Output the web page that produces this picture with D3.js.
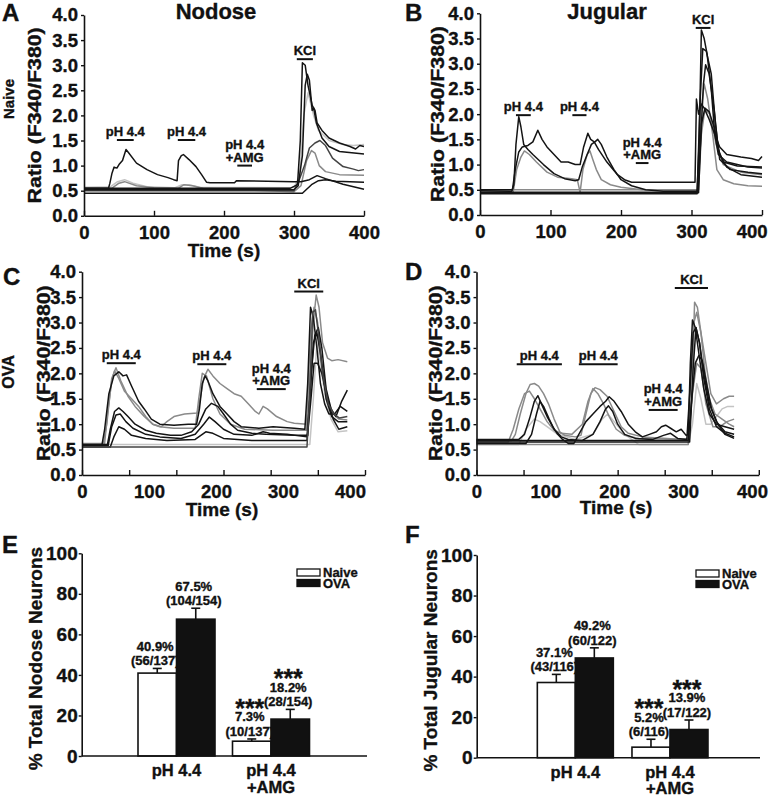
<!DOCTYPE html>
<html><head><meta charset="utf-8">
<script src="https://cdn.jsdelivr.net/npm/d3@7"></script>
<style>
body{margin:0;background:#fff}
text{font-family:"Liberation Sans",Arial,Helvetica,sans-serif;font-weight:bold;fill:#111;stroke:#111;stroke-width:0.35px}
</style>
</head><body>
<svg id="chart" width="769" height="797"></svg>
<script>
// ---------------- DATA ----------------
const timeTicks = [0, 100, 200, 300, 400];
const timeMinorCD = [0, 400/6, 800/6, 200, 1600/6, 2000/6, 400];
const ratioTicks = [0, 0.5, 1, 1.5, 2, 2.5, 3, 3.5, 4];
const pctTicks = [0, 20, 40, 60, 80, 100];

// Panel A: Nodose, naive
const tracesA = [
  [[0,0.57],[38,0.58],[48,0.68],[58,0.72],[70,0.65],[90,0.58],[130,0.56],[140,0.62],[150,0.62],[165,0.57],[300,0.56],[308,0.8],[314,2.0],[320,2.45],[328,2.0],[335,1.7],[350,1.5],[370,1.42],[385,1.4],[400,1.42]],
  [[0,0.55],[40,0.55],[50,0.65],[58,0.68],[75,0.6],[100,0.56],[135,0.55],[143,0.62],[155,0.6],[170,0.55],[300,0.48],[310,0.6],[318,1.1],[325,1.3],[330,1.25],[336,1.0],[345,0.88],[365,0.82],[400,0.81]],
  [[0,0.5],[300,0.5],[307,0.7],[315,1.0],[322,1.35],[330,1.45],[337,1.5],[345,1.4],[355,1.15],[370,0.98],[385,0.93],[392,0.9],[400,0.92]],
  [[0,0.55],[295,0.55],[305,0.62],[309,1.5],[312,3.05],[316,3.0],[320,2.6],[326,2.2],[330,2.1],[333,1.85],[340,1.7],[350,1.55],[365,1.45],[380,1.38],[388,1.33],[394,1.4],[400,1.38]],
  [[0,0.52],[300,0.52],[306,0.6],[312,1.2],[316,2.6],[319,2.82],[322,2.7],[326,2.1],[328,2.15],[332,1.85],[340,1.55],[350,1.38],[365,1.28],[400,1.23]],
  [[0,0.45],[312,0.45],[325,0.62],[335,0.7],[345,0.72],[360,0.69],[400,0.67]],
  [[0,0.55],[35,0.55],[37,0.65],[40,0.85],[43,0.97],[47,0.95],[50,1.02],[55,1.1],[60,1.32],[64,1.25],[75,1.05],[90,0.92],[105,0.82],[120,0.76],[128,0.72],[133,0.7],[135,1.1],[139,1.2],[142,1.22],[150,1.12],[160,0.98],[168,0.82],[175,0.67],[180,0.66],[215,0.66],[218,0.7],[300,0.68],[310,0.68],[322,0.72],[333,0.8],[345,0.74],[370,0.63],[400,0.53]]
];
const shadesA = ["light","mid","dark","black","black","black","black"];
const stimA = [
  {lines:["pH 4.4"], t0:47, t1:71, v:1.51},
  {lines:["pH 4.4"], t0:134, t1:159, v:1.51},
  {lines:["pH 4.4","+AMG"], t0:219, t1:240, v:1.0},
  {lines:["KCl"], t0:304, t1:327, v:3.12}
];

// Panel B: Jugular, naive
const tracesB = [
  [[0,0.45],[47,0.45],[52,0.9],[58,1.15],[63,1.27],[70,1.2],[80,1.05],[95,0.85],[110,0.75],[130,0.72],[138,0.7],[142,0.45],[146,0.9],[152,1.2],[156,1.27],[160,1.1],[165,0.9],[172,0.7],[185,0.6],[200,0.55],[230,0.5],[309,0.48],[313,2.0],[318,2.6],[323,2.3],[330,1.6],[336,0.9],[345,0.7],[360,0.62],[380,0.58],[400,0.57]],
  [[0,0.5],[310,0.5],[314,1.6],[319,2.1],[326,2.0],[335,1.4],[345,1.0],[370,0.85],[400,0.8]],
  [[0,0.48],[45,0.47],[48,0.6],[51,1.4],[55,1.95],[58,1.75],[62,1.4],[68,1.3],[75,1.2],[90,1.0],[105,0.82],[120,0.72],[135,0.68],[140,0.7],[145,0.95],[152,1.2],[158,1.4],[163,1.45],[167,1.5],[172,1.4],[180,1.15],[190,0.9],[200,0.7],[215,0.58],[235,0.5],[260,0.47],[308,0.47],[311,1.5],[314,3.67],[318,3.5],[322,3.2],[328,2.5],[333,1.6],[338,1.2],[350,1.05],[365,1.0],[380,0.95],[400,0.93]],
  [[0,0.5],[46,0.5],[50,0.9],[55,1.25],[60,1.35],[68,1.38],[75,1.45],[82,1.68],[88,1.5],[95,1.35],[105,1.2],[115,1.05],[125,1.05],[135,1.0],[142,1.0],[147,1.35],[153,1.62],[157,1.5],[162,1.45],[168,1.3],[180,1.05],[195,0.8],[205,0.7],[215,0.65],[305,0.65],[307,2.3],[310,2.0],[314,2.2],[318,2.12],[325,1.9],[333,1.6],[340,1.35],[350,1.2],[370,1.15],[385,1.12],[395,1.08],[400,1.16]],
  [[0,0.45],[309,0.45],[313,1.5],[317,2.6],[320,2.98],[325,2.8],[332,2.1],[338,1.3],[345,1.05],[365,0.97],[400,0.95]],
  [[0,0.42],[308,0.42],[312,2.2],[316,3.3],[321,3.25],[328,2.8],[334,1.8],[340,1.1],[355,0.9],[380,0.85],[400,0.82]],
  [[0,0.44],[310,0.44],[314,1.8],[319,2.12],[325,2.05],[333,1.7],[340,1.2],[350,0.95],[370,0.8],[400,0.75]]
];
const shadesB = ["mid","mid","black","black","black","black","black"];
const stimB = [
  {lines:["pH 4.4"], t0:51, t1:72, v:1.98},
  {lines:["pH 4.4"], t0:131, t1:151, v:1.98},
  {lines:["pH 4.4","+AMG"], t0:221, t1:239, v:1.03},
  {lines:["KCl"], t0:306, t1:327, v:3.71}
];

// Panel C: Nodose, OVA
const tracesC = [
  [[0,0.6],[322,0.6],[327,1.5],[332,2.6],[337,2.2],[343,1.6],[352,1.1],[362,0.85],[375,0.87]],
  [[0,0.6],[30,0.6],[35,1.0],[42,1.9],[48,2.11],[55,1.85],[65,1.55],[75,1.35],[88,1.15],[100,1.0],[112,0.95],[120,1.05],[130,1.15],[145,1.2],[163,1.22],[167,1.5],[172,1.9],[178,2.08],[185,1.95],[195,1.8],[205,1.7],[215,1.6],[225,1.55],[235,1.4],[245,1.25],[250,1.2],[256,1.35],[262,1.3],[275,1.15],[290,1.05],[300,1.02],[318,1.0],[322,2.0],[327,3.0],[331,3.54],[335,3.3],[340,2.6],[347,2.3],[353,2.25],[362,2.27],[375,2.23]],
  [[0,0.62],[32,0.62],[36,1.2],[42,1.85],[46,2.05],[52,1.9],[60,1.65],[70,1.5],[80,1.35],[90,1.15],[100,1.0],[110,0.95],[130,0.92],[160,0.92],[165,1.5],[170,2.0],[176,1.95],[185,1.5],[195,1.2],[210,1.0],[230,0.9],[270,0.88],[317,0.88],[323,2.8],[328,3.3],[333,3.0],[339,2.2],[347,1.5],[355,1.2],[363,1.1],[375,1.08]],
  [[0,0.58],[28,0.58],[32,0.9],[38,1.6],[45,1.95],[52,2.03],[58,1.95],[63,1.97],[70,1.75],[80,1.45],[88,1.3],[98,1.1],[110,1.0],[130,0.98],[150,1.0],[162,1.0],[166,1.3],[170,1.8],[174,1.95],[178,1.85],[185,1.6],[195,1.35],[205,1.2],[215,1.05],[225,0.95],[250,0.92],[270,0.95],[300,0.92],[315,0.9],[319,1.8],[323,3.3],[327,3.1],[332,2.5],[337,1.8],[343,1.4],[349,1.2],[357,1.2],[365,1.35],[375,1.25]],
  [[0,0.6],[36,0.6],[40,0.9],[46,1.25],[52,1.32],[58,1.25],[65,1.15],[75,1.0],[90,0.88],[105,0.82],[125,0.78],[140,0.78],[155,0.85],[165,1.0],[175,1.3],[183,1.41],[192,1.35],[200,1.2],[210,1.0],[220,0.88],[240,0.82],[260,0.8],[300,0.78],[319,0.78],[324,2.0],[329,2.75],[334,2.9],[339,2.5],[345,1.7],[352,1.3],[359,1.15],[367,1.45],[375,1.67]],
  [[0,0.58],[37,0.58],[42,0.95],[48,1.18],[54,1.2],[62,1.05],[72,0.92],[90,0.8],[110,0.75],[140,0.72],[160,0.8],[172,1.0],[180,1.14],[188,1.05],[200,0.9],[215,0.8],[240,0.78],[256,0.85],[265,0.82],[290,0.8],[318,0.75],[322,1.5],[327,2.6],[332,2.8],[338,2.3],[345,1.5],[353,1.15],[362,1.05],[375,1.05]],
  [[0,0.55],[40,0.55],[45,0.75],[52,0.95],[60,0.9],[70,0.78],[90,0.72],[120,0.68],[160,0.7],[175,0.85],[185,0.82],[200,0.72],[240,0.68],[318,0.68],[323,1.4],[328,2.2],[333,2.2],[339,2.0],[347,1.5],[355,1.1],[363,0.9],[375,0.95]],
  [[0,0.55],[318,0.55],[322,1.6],[326,3.2],[330,3.25],[334,2.8],[340,2.0],[348,1.4],[356,1.2],[364,1.12],[375,1.15]]
];
const shadesC = ["light","mid","mid","black","black","black","black","dark"];
const stimC = [
  {lines:["pH 4.4"], t0:35, t1:76, v:2.2},
  {lines:["pH 4.4"], t0:163, t1:204, v:2.18},
  {lines:["pH 4.4","+AMG"], t0:247, t1:288, v:1.69},
  {lines:["KCl"], t0:300, t1:341, v:3.61}
];

// Panel D: Jugular, OVA
const tracesD = [
  [[0,0.6],[60,0.6],[70,0.9],[82,1.1],[90,1.05],[100,0.95],[115,0.8],[140,0.7],[165,0.8],[178,1.1],[186,1.2],[195,1.05],[210,0.8],[230,0.6],[300,0.6],[306,1.0],[312,1.8],[318,1.5],[325,1.0],[332,1.0],[340,1.15],[348,1.3],[356,1.35],[365,1.35]],
  [[0,0.68],[50,0.68],[55,0.8],[62,1.2],[70,1.6],[76,1.78],[82,1.8],[88,1.75],[95,1.6],[102,1.4],[110,1.1],[118,0.85],[125,0.78],[140,0.75],[148,0.78],[155,1.2],[162,1.6],[168,1.72],[175,1.68],[185,1.55],[195,1.25],[205,0.95],[215,0.82],[235,0.75],[270,0.72],[290,0.7],[300,0.72],[304,2.0],[308,3.0],[312,3.2],[318,2.8],[325,2.2],[332,1.6],[340,1.4],[350,1.5],[358,1.55],[365,1.55]],
  [[0,0.65],[45,0.65],[52,0.9],[60,1.3],[68,1.6],[75,1.65],[82,1.5],[92,1.25],[100,1.05],[110,0.88],[120,0.82],[135,0.8],[150,1.0],[158,1.45],[165,1.7],[172,1.6],[180,1.4],[188,1.15],[198,0.9],[210,0.78],[230,0.72],[300,0.7],[305,1.5],[309,3.4],[313,3.3],[318,2.8],[324,2.0],[330,1.5],[338,1.2],[348,1.1],[358,1.0],[365,0.95]],
  [[0,0.6],[300,0.6],[306,1.6],[312,2.2],[318,2.1],[325,1.4],[335,0.95],[345,0.95],[355,1.05],[365,1.1]],
  [[0,0.7],[60,0.7],[68,0.8],[75,1.1],[82,1.45],[87,1.56],[92,1.4],[100,1.15],[108,0.95],[115,0.8],[122,0.7],[130,0.62],[138,0.62],[145,0.8],[155,1.05],[165,1.2],[175,1.35],[183,1.45],[188,1.54],[195,1.45],[205,1.25],[215,1.0],[225,0.85],[235,0.75],[245,0.8],[255,0.85],[262,0.95],[268,0.98],[275,0.92],[283,0.85],[290,0.9],[297,0.78],[300,0.8],[303,2.2],[306,3.05],[310,2.9],[315,2.4],[322,1.7],[330,1.2],[340,1.0],[352,0.95],[365,0.9]],
  [[0,0.62],[70,0.62],[78,0.8],[85,1.2],[90,1.45],[95,1.35],[103,1.1],[110,0.9],[120,0.75],[130,0.7],[150,0.68],[165,0.8],[175,1.05],[183,1.3],[187,1.36],[193,1.25],[200,1.0],[210,0.8],[225,0.72],[250,0.7],[265,0.78],[275,0.82],[285,0.72],[298,0.7],[303,1.8],[307,2.8],[311,2.9],[316,2.6],[322,2.0],[330,1.4],[340,1.05],[352,0.85],[365,0.8]],
  [[0,0.68],[300,0.68],[305,1.5],[310,2.2],[315,2.35],[320,2.25],[326,1.8],[333,1.3],[342,1.0],[352,0.8],[365,0.72]],
  [[0,0.65],[302,0.65],[307,2.1],[311,2.9],[316,2.6],[322,1.9],[330,1.3],[340,0.95],[352,0.82],[365,0.75]]
];
const shadesD = ["light","mid","mid","mid","black","black","black","black"];
const stimD = [
  {lines:["pH 4.4"], t0:57, t1:121, v:2.18},
  {lines:["pH 4.4"], t0:145, t1:200, v:2.18},
  {lines:["pH 4.4","+AMG"], t0:244, t1:285, v:1.28},
  {lines:["KCl"], t0:281, t1:328, v:3.68}
];

// Bar charts (E: nodose, F: jugular)
const barCategories = [["pH 4.4"], ["pH 4.4", "+AMG"]];
const groups = ["Naive", "OVA"];
const nodoseNaive = [40.9, 7.3];
const nodoseOVA = [67.5, 18.2];
const nodoseNaiveErr = [2.3, 1.1];
const nodoseOVAErr = [5.4, 4.8];
const nodoseNaiveN = ["(56/137)", "(10/137)"];
const nodoseOVAN = ["(104/154)", "(28/154)"];
const jugularNaive = [37.1, 5.2];
const jugularOVA = [49.2, 13.9];
const jugularNaiveErr = [4.0, 3.9];
const jugularOVAErr = [5.0, 4.7];
const jugularNaiveN = ["(43/116)", "(6/116)"];
const jugularOVAN = ["(60/122)", "(17/122)"];
const sigNaive = ["", "***"];
const sigOVA = ["", "***"];

// ---------------- DRAWING ----------------
const svg = d3.select("#chart");
const shadeColor = {black:"#141414", dark:"#444", mid:"#8a8a8a", light:"#c4c4c4"};

function styleAxis(g, fs) {
  g.attr("font-size", fs);
  g.selectAll("path.domain").attr("stroke", "#111").attr("stroke-width", 1.6);
  g.selectAll(".tick line").attr("stroke", "#111").attr("stroke-width", 1.4);
  g.selectAll(".tick text").attr("fill", "#111");
}

function rotText(x, y, txt, fs, len) {
  const t = svg.append("text").attr("transform", `translate(${x},${y}) rotate(-90)`)
    .attr("text-anchor", "middle").attr("font-size", fs).text(txt);
  if (len) t.attr("textLength", len).attr("lengthAdjust", "spacingAndGlyphs");
  return t;
}

function tracePanel(cfg, traces, shades, stims) {
  const x = d3.scaleLinear().domain([0, 400]).range([cfg.x0, cfg.x1]);
  const y = d3.scaleLinear().domain([0, 4]).range([cfg.y0, cfg.y4]);
  const g = svg.append("g");
  const line = d3.line().x(d => x(d[0])).y(d => y(d[1]));
  traces.forEach((tr, i) => {
    g.append("path").attr("d", line(tr)).attr("fill", "none")
      .attr("stroke", shadeColor[shades[i]]).attr("stroke-width", 1.5)
      .attr("stroke-linejoin", "round");
  });
  stims.forEach(s => {
    const yb = y(s.v);
    g.append("line").attr("x1", x(s.t0)).attr("x2", x(s.t1)).attr("y1", yb).attr("y2", yb)
      .attr("stroke", "#111").attr("stroke-width", 2);
    const cx = (x(s.t0) + x(s.t1)) / 2;
    const n = s.lines.length;
    s.lines.forEach((l, k) => {
      g.append("text").attr("x", cx).attr("y", yb - 4 - (n - 1 - k) * 12.5)
        .attr("text-anchor", "middle").attr("font-size", 13).text(l);
    });
  });
  const ya = g.append("g").attr("transform", `translate(${cfg.x0},0)`)
    .call(d3.axisLeft(y).tickValues(ratioTicks).tickFormat(d3.format(".1f"))
      .tickSize(3).tickPadding(3).tickSizeOuter(0));
  styleAxis(ya, 18.5);
  if (cfg.labelX1) {
    const xl = d3.scaleLinear().domain([0, 400]).range([cfg.x0, cfg.labelX1]);
    const xa = g.append("g").attr("transform", `translate(0,${cfg.y0})`)
      .call(d3.axisBottom(xl).tickValues(timeTicks).tickSize(0).tickPadding(10));
    xa.select("path.domain").remove();
    styleAxis(xa, 18.5);
    const xm = g.append("g").attr("transform", `translate(0,${cfg.y0})`)
      .call(d3.axisBottom(x).tickValues(timeMinorCD).tickFormat("").tickSize(-5).tickSizeOuter(0));
    styleAxis(xm, 18.5);
  } else {
    const xa = g.append("g").attr("transform", `translate(0,${cfg.y0})`)
      .call(d3.axisBottom(x).tickValues(timeTicks).tickSize(-5).tickPadding(10).tickSizeOuter(0));
    styleAxis(xa, 18.5);
    if (cfg.lastEnd) {
      xa.selectAll(".tick").filter(d => d === 400).select("text")
        .attr("text-anchor", "end").attr("dx", cfg.lastEnd);
    }
  }
  if (cfg.timeLabel) {
    svg.append("text").attr("x", cfg.timeX).attr("y", cfg.timeY).attr("text-anchor", "middle")
      .attr("font-size", 19).text("Time (s)");
  }
  rotText(cfg.ratioX, (cfg.y0 + cfg.y4) / 2, "Ratio (F340/F380)", 19, 176);
}

tracePanel({x0:84, x1:364, y0:215.8, y4:15, timeLabel:true, timeX:224, timeY:257, ratioX:41}, tracesA, shadesA, stimA);
tracePanel({x0:480, x1:762, y0:215, y4:13.3, timeLabel:false, ratioX:444, lastEnd:5}, tracesB, shadesB, stimB);
tracePanel({x0:82, x1:365, y0:475, y4:271.7, labelX1:350, timeLabel:true, timeX:222, timeY:516, ratioX:50}, tracesC, shadesC, stimC);
tracePanel({x0:476.5, x1:758.8, y0:475, y4:271.7, labelX1:752, timeLabel:true, timeX:616, timeY:514, ratioX:442}, tracesD, shadesD, stimD);

svg.append("text").attr("x", 216).attr("y", 19).attr("text-anchor", "middle").attr("font-size", 22).text("Nodose");
svg.append("text").attr("x", 607).attr("y", 19).attr("text-anchor", "middle").attr("font-size", 22).text("Jugular");
rotText(14, 99, "Naive", 15);
rotText(14, 372, "OVA", 16);

[["A", 2, 21], ["B", 405, 21], ["C", 3, 285], ["D", 405, 280], ["E", 2, 553], ["F", 405, 543]].forEach(([l, x, y]) => {
  svg.append("text").attr("x", x).attr("y", y).attr("font-size", 24).text(l);
});

function barPanel(cfg, naive, ova, naiveErr, ovaErr, naiveN, ovaN, title) {
  const y = d3.scaleLinear().domain([0, 100]).range([cfg.y0, cfg.y100]);
  const x = d3.scaleBand().domain(d3.range(barCategories.length)).range(cfg.band);
  const bw = x.bandwidth();
  const xi = d3.scaleBand().domain(groups).range([(bw - 2 * cfg.barW) / 2, (bw + 2 * cfg.barW) / 2]);
  const g = svg.append("g");
  const series = {Naive: {v: naive, e: naiveErr, n: naiveN, s: sigNaive},
                  OVA: {v: ova, e: ovaErr, n: ovaN, s: sigOVA}};
  barCategories.forEach((cat, i) => {
    groups.forEach(gr => {
      const d = series[gr];
      const bx = x(i) + xi(gr);
      const cx = bx + xi.bandwidth() / 2;
      const errTop = y(d.v[i] + d.e[i]);
      g.append("line").attr("x1", cx).attr("x2", cx).attr("y1", y(d.v[i])).attr("y2", errTop)
        .attr("stroke", "#111").attr("stroke-width", 1.6);
      g.append("line").attr("x1", cx - 4.5).attr("x2", cx + 4.5).attr("y1", errTop).attr("y2", errTop)
        .attr("stroke", "#111").attr("stroke-width", 1.6);
      g.append("rect").attr("x", bx).attr("y", y(d.v[i])).attr("width", xi.bandwidth())
        .attr("height", y(0) - y(d.v[i]))
        .attr("fill", gr === "Naive" ? "#fff" : "#111").attr("stroke", "#111").attr("stroke-width", 1.6);
      const tx = cx - 2;
      g.append("text").attr("x", tx).attr("y", errTop - 3).attr("text-anchor", "middle")
        .attr("font-size", 13).text(d.n[i]);
      g.append("text").attr("x", tx).attr("y", errTop - 17.5).attr("text-anchor", "middle")
        .attr("font-size", 13).text(d3.format(".1f")(d.v[i]) + "%");
      if (d.s[i]) {
        g.append("text").attr("x", tx).attr("y", errTop - 22).attr("text-anchor", "middle")
          .attr("font-size", 25).text(d.s[i]);
      }
    });
    cat.forEach((l, k) => {
      g.append("text").attr("x", x(i) + bw / 2).attr("y", cfg.y0 + 20 + k * 16.5)
        .attr("text-anchor", "middle").attr("font-size", 16.5).text(l);
    });
  });
  const ya = g.append("g").attr("transform", `translate(${cfg.x0},0)`)
    .call(d3.axisLeft(y).tickValues(pctTicks).tickSize(3).tickPadding(1).tickSizeOuter(0));
  styleAxis(ya, 19);
  g.append("line").attr("x1", cfg.x0).attr("x2", cfg.xEnd).attr("y1", cfg.y0).attr("y2", cfg.y0)
    .attr("stroke", "#111").attr("stroke-width", 1.6);
  groups.forEach((gr, k) => {
    const ly = cfg.legY + k * 10.5;
    g.append("rect").attr("x", cfg.legX).attr("y", ly).attr("width", 23).attr("height", 7)
      .attr("fill", gr === "Naive" ? "#fff" : "#111").attr("stroke", "#111").attr("stroke-width", 1.3);
    g.append("text").attr("x", cfg.legX + 26).attr("y", ly + 8).attr("font-size", 13).text(gr);
  });
  rotText(cfg.titleX, (cfg.y0 + cfg.y100) / 2 + 4, title, 19);
}

barPanel({x0:81.7, xEnd:367, y0:756, y100:553.3, band:[129.25, 318.25], barW:38.5, legX:297, legY:569, titleX:42},
  nodoseNaive, nodoseOVA, nodoseNaiveErr, nodoseOVAErr, nodoseNaiveN, nodoseOVAN, "% Total Nodose Neurons");
barPanel({x0:476.7, xEnd:760, y0:757.7, y100:555, band:[528, 717.3], barW:38, legX:696, legY:570, titleX:437},
  jugularNaive, jugularOVA, jugularNaiveErr, jugularOVAErr, jugularNaiveN, jugularOVAN, "% Total Jugular Neurons");
</script>
</body></html>
